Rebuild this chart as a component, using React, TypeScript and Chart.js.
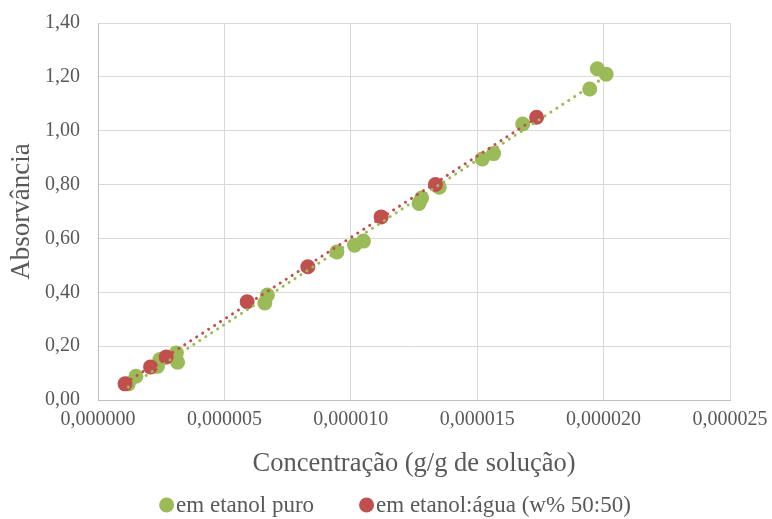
import React, { useEffect, useRef } from "react";
import { Chart, registerables } from "chart.js";

Chart.register(...registerables);

// Concentração (g/g de solução), in units of 1e-6
const etanolPuroX = [1.2, 1.5, 2.35, 2.45, 3.1, 3.15, 6.6, 6.7, 9.45, 10.15, 10.5, 12.7, 12.8, 13.5, 15.2, 15.65, 16.8, 19.45, 19.75, 20.1];
const etanolPuroY = [0.06, 0.088, 0.125, 0.15, 0.175, 0.14, 0.36, 0.39, 0.55, 0.575, 0.59, 0.73, 0.75, 0.79, 0.895, 0.915, 1.025, 1.155, 1.23, 1.21];

const etanolAguaX = [1.07, 2.08, 2.7, 5.9, 8.3, 11.2, 13.35, 17.35];
const etanolAguaY = [0.06, 0.123, 0.16, 0.365, 0.495, 0.68, 0.8, 1.05];

const seriesLabels = ["em etanol puro", "em etanol:água (w% 50:50)"];
const xTicksMax = 0.000025;
const yTicksMax = 1.4;

const GREEN = "#9BBB59";
const RED = "#C0504D";
const TEXT = "#595959";
const FONT = "'Liberation Serif', 'Times New Roman', serif";

function toPoints(xs: number[], ys: number[]) {
  return xs.map((x, i) => ({ x: x * 1e-6, y: ys[i] }));
}

function trend(xs: number[], ys: number[]) {
  const n = xs.length;
  const X = xs.map((v) => v * 1e-6);
  const mx = X.reduce((a, b) => a + b, 0) / n;
  const my = ys.reduce((a, b) => a + b, 0) / n;
  let sxy = 0, sxx = 0;
  for (let i = 0; i < n; i++) {
    sxy += (X[i] - mx) * (ys[i] - my);
    sxx += (X[i] - mx) * (X[i] - mx);
  }
  const m = sxy / sxx;
  const b = my - m * mx;
  const x0 = Math.min(...X);
  const x1 = Math.max(...X);
  return [
    { x: x0, y: m * x0 + b },
    { x: x1, y: m * x1 + b },
  ];
}

const bottomLegend = {
  id: "bottomLegend",
  afterDraw(chart: any) {
    const ctx = chart.ctx;
    const items = [0, 1].map((i) => ({
      label: chart.data.datasets[i].label,
      color: chart.data.datasets[i].backgroundColor,
    }));
    ctx.save();
    ctx.font = `23px ${FONT}`;
    const r = 7.5;
    const gap = 2;
    const spacing = 45;
    const widths = items.map((it) => 2 * r + gap + ctx.measureText(it.label).width);
    const total = widths.reduce((a, b) => a + b, 0) + spacing * (items.length - 1);
    let x = chart.width / 2 + 9 - total / 2;
    const y = chart.height - 14;
    ctx.textBaseline = "middle";
    ctx.textAlign = "left";
    items.forEach((it, i) => {
      ctx.fillStyle = it.color;
      ctx.beginPath();
      ctx.arc(x + r, y, r, 0, Math.PI * 2);
      ctx.fill();
      ctx.fillStyle = TEXT;
      ctx.fillText(it.label, x + 2 * r + gap, y + 1);
      x += widths[i] + spacing;
    });
    ctx.restore();
  },
};

export default function App() {
  const ref = useRef<HTMLCanvasElement | null>(null);
  useEffect(() => {
    document.body.style.margin = "0";
    const canvas = ref.current!;
    const chart = new Chart(canvas, {
      type: "scatter",
      data: {
        datasets: [
          {
            label: seriesLabels[0],
            data: toPoints(etanolPuroX, etanolPuroY),
            backgroundColor: GREEN,
            borderColor: GREEN,
            pointRadius: 7.5,
            pointBorderWidth: 0,
            order: 3,
          },
          {
            label: seriesLabels[1],
            data: toPoints(etanolAguaX, etanolAguaY),
            backgroundColor: RED,
            borderColor: RED,
            pointRadius: 7.5,
            pointBorderWidth: 0,
            order: 2,
          },
          {
            label: "trend1",
            type: "line",
            data: trend(etanolPuroX, etanolPuroY),
            borderColor: GREEN,
            borderWidth: 3,
            borderDash: [0.1, 7],
            borderCapStyle: "round",
            pointRadius: 0,
            fill: false,
            order: 1,
          } as any,
          {
            label: "trend2",
            type: "line",
            data: trend(etanolAguaX, etanolAguaY),
            borderColor: RED,
            borderWidth: 3,
            borderDash: [0.1, 7],
            borderCapStyle: "round",
            pointRadius: 0,
            fill: false,
            order: 0,
          } as any,
        ],
      },
      options: {
        responsive: false,
        animation: false,
        layout: { padding: { left: 0, right: 42, top: 23, bottom: 30 }, autoPadding: false },
        plugins: {
          tooltip: { enabled: false },
          legend: { display: false },
        },
        scales: {
          x: {
            type: "linear",
            min: 0,
            max: xTicksMax,
            afterFit: (s: any) => {
              s.height = 89;
              s.paddingLeft = 0; s.paddingRight = 0; s.paddingTop = 0; s.paddingBottom = 0;
            },
            ticks: {
              stepSize: 0.000005,
              color: TEXT,
              font: { family: FONT, size: 20 },
              padding: 8,
              maxRotation: 0,
              callback: (v: any) => Number(v).toFixed(6).replace(".", ","),
            },
            grid: { color: "#D9D9D9", lineWidth: 1, drawTicks: false },
            border: { color: "#BFBFBF" },
            title: {
              display: true,
              text: "Concentração (g/g de solução)",
              color: TEXT,
              font: { family: FONT, size: 26.5 },
              padding: { top: 0, bottom: 9 },
            },
          },
          y: {
            type: "linear",
            min: 0,
            max: yTicksMax,
            afterFit: (s: any) => {
              s.width = 98;
              s.paddingLeft = 0; s.paddingRight = 0; s.paddingTop = 0; s.paddingBottom = 0;
            },
            ticks: {
              stepSize: 0.2,
              color: TEXT,
              font: { family: FONT, size: 20 },
              padding: 18,
              callback: (v: any) => Number(v).toFixed(2).replace(".", ","),
            },
            grid: { color: "#D9D9D9", lineWidth: 1, drawTicks: false },
            border: { color: "#BFBFBF" },
            title: {
              display: true,
              text: "Absorvância",
              color: TEXT,
              font: { family: FONT, size: 27 },
              padding: { top: 6, bottom: 0 },
            },
          },
        },
      },
      plugins: [bottomLegend],
    });
    return () => chart.destroy();
  }, []);
  return <canvas ref={ref} width={772} height={519} style={{ display: "block" }} />;
}
